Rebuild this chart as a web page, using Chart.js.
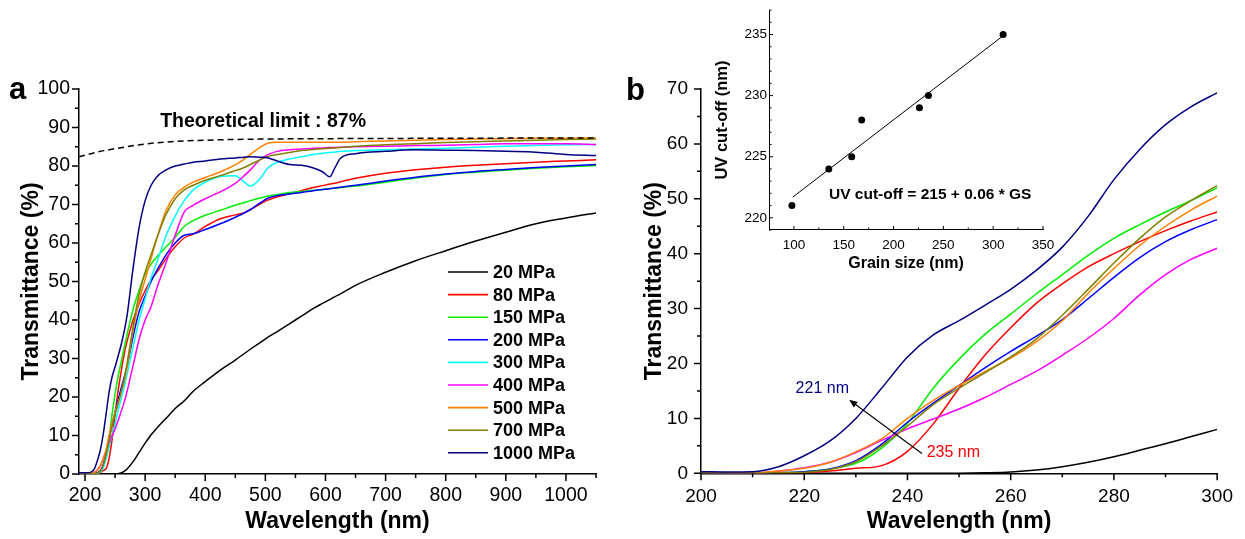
<!DOCTYPE html>
<html><head><meta charset="utf-8">
<script src="https://cdn.jsdelivr.net/npm/chart.js@4.4.1/dist/chart.umd.min.js"></script>
<style>
html,body{margin:0;padding:0;background:#fff;}
#wrap{position:relative;width:1245px;height:539px;overflow:hidden;background:#fff;}
#wrap canvas{position:absolute;left:0;top:0;}
</style></head><body>
<div id="wrap">
<canvas id="ca" width="1245" height="539"></canvas>
<canvas id="cb" width="1245" height="539"></canvas>
<canvas id="ci" width="1245" height="539"></canvas>
</div>
<script>
// ---------------- DATA ----------------
// Panel a: wavelength grid (nm)
const waveA = [190,205,215,220,225,230,235,240,245,250,255,260,265,270,280,290,300,310,320,335,350,365,380,400,425,450,465,475,490,505,520,540,560,580,595,607,615,625,650,700,750,800,850,900,950,1000,1050];
const a20   = [0,0,0,0,0,0,0,0,0,0, 0.1,0.3,0.7,1.3,3.2,5.6,8,10.2,12,14.5, 17,19,21.5,24,27,29.6,31.3,32.4,34,35.6, 37,39,41,43,44.3,45.3,46,46.8,49,52.4, 55.4,58,60.5,62.8,65,66.5,67.8];
const a80   = [0,0,0,0.1,0.4,0.9,1.4,4,9,15.5, 21.5,26.5,31,34.5,40,44.2,47.6,50.5,52.5,56, 59,61.3,62.3,64.3,66.3,67.3,67.9,68.6,70,71.2, 72,72.8,73.6,74.4,74.9,75.3,75.5,75.9,76.8,78.1, 79,79.7,80.2,80.6,81,81.3,81.6];
const a150  = [0,0,0.1,0.3,0.8,1.8,4.6,9.1,15.5,20.8, 25.3,29,32.7,36.2,42.8,47.7,52,54.5,56.5,59, 61.5,64.3,65.8,67.2,68.5,69.8,70.5,71,71.6,72.2, 72.6,73.1,73.4,73.7,73.9,74.1,74.2,74.4,74.8,75.8, 76.9,77.8,78.4,78.9,79.4,79.8,80.1];
const a200  = [0,0,0.05,0.3,0.8,2.3,5.3,9.3,12.8,16, 19.2,22.2,25,28,35.7,42.2,46.2,50,53,57, 60,62,62.4,63.5,65,66.7,67.8,68.7,70.3,71.7, 72.3,72.7,73.1,73.6,73.9,74.1,74.3,74.5,75,76.1, 77.1,77.9,78.6,79.1,79.6,80,80.4];
const a300  = [0,0,0,0.1,0.5,1.5,4,7,10,13, 16.5,19.5,22.5,26,33,40,45.5,51,55.2,62, 67,71,73.8,75.8,77.3,77.5,75.8,74.8,76.5,79.6, 81,81.8,82.4,83,83.3,83.5,83.6,83.8,84,84.2, 84.4,84.6,84.9,85.1,85.3,85.5,85.6];
const a400  = [0,0,0.4,1,2,3.8,6,8.1,9.9,11.7, 13.8,16.2,18.6,21.5,28.2,35,40,43.5,48.5,55, 62,68,69.8,71.5,73.3,75.5,77.5,79,81.5,83, 83.8,84.2,84.4,84.6,84.7,84.8,84.8,84.9,85,85.1, 85.3,85.4,85.6,85.8,85.8,85.8,85.6];
const a500  = [0,0.05,0.4,0.9,2,3.9,6.3,10,13.3,16, 18.5,21,24,27.8,37.3,45,50.5,56,61.5,68.5, 72.5,74.5,75.8,77,78.5,80.3,81.8,83,84.7,86, 86.2,86.2,86.2,86.2,86.2,86.2,86.2,86.2,86.3,86.5, 86.7,86.9,87,87.1,87.2,87.2,87.3];
const a700  = [0,0,0.1,0.2,0.7,2.1,5,8.6,12.5,15.5, 18.3,21.2,24.5,28.8,38.3,46.7,52.4,57,61.5,67.5, 71.5,73.8,75,76.3,77.5,78.8,79.6,80.4,81.5,82.5, 83,83.5,84,84.3,84.5,84.6,84.7,84.8,85.1,85.5, 85.8,86.1,86.3,86.5,86.7,86.9,87];
const a1000 = [0.3,0.3,1.2,3.2,5.9,10,15.5,21.2,25.2,27.8, 30.6,33.5,37,41.2,53.5,64,71,75,77.3,79, 80,80.5,81,81.3,81.8,82.1,82.3,82.4,82.3,82.1, 81.3,80.4,80.2,79.5,78.5,77.2,79.3,82,83.2,83.8, 84.2,84.1,84,83.8,83.6,83,82.7];
const limitWave = [190,220,250,300,350,400,450,500,600,800,1050];
const limitVal  = [82.4,83.6,84.5,85.7,86.4,86.7,86.9,87,87.1,87.2,87.3];

// Panel b: wavelength grid (nm)
const waveB = [200,205,210,215,220,225,230,235,240,245,250,255,260,265,270,275,280,285,290,295,300];
const b20   = [0,0,0,0,0,0,0,0,0,0,0.02,0.1,0.25,0.6,1.2,2,3,4.2,5.4,6.7,8];
const b80   = [0.1,0.05,0,0,0.1,0.4,0.9,1.4,4,9,15.5,21.5,26.5,31,34.5,37.6,40,42.2,44.2,46,47.6];
const b150  = [0.1,0.05,0,0.1,0.3,0.8,1.8,4.6,9.1,15.5,20.8,25.3,29,32.7,36.2,39.7,42.8,45.3,47.6,49.7,52];
const b200  = [0.1,0.05,0,0.1,0.3,0.8,2.3,5.3,9.3,12.8,16,19.2,22.2,25,28,31.8,35.7,39.3,42.2,44.4,46.2];
const b400  = [0.1,0.05,0.05,0.4,1,2,3.8,6,8.1,9.9,11.7,13.8,16.2,18.6,21.5,24.6,28.2,32.5,36.2,39,41];
const b500  = [0.1,0.1,0.1,0.4,0.9,2,3.9,6.3,10,13.3,16,18.5,21,24,27.8,32.8,37.3,41.5,45,48,50.5];
const b700  = [0.1,0.05,0,0.1,0.2,0.7,2.1,5,8.6,12.5,15.5,18.3,21.2,24.5,28.8,33.5,38.3,42.8,46.7,49.7,52.4];
const b1000 = [0.3,0.25,0.3,1.2,3.2,5.9,10,15.5,21.2,25.2,27.8,30.6,33.5,37,41.2,46.8,53.5,59,63.5,66.8,69.3];

// Inset: grain size vs UV cut-off
const grainSize = [98,135,158,168,226,235,310];
const uvCutoff  = [221,224,225,228,229,230,235];
const fitGS = [99,310];
const fitUV = [221.7,234.9];

// Labels / tick values
const seriesLabels = ['20 MPa','80 MPa','150 MPa','200 MPa','300 MPa','400 MPa','500 MPa','700 MPa','1000 MPa'];
const xTicksA = [200,300,400,500,600,700,800,900,1000];
const xMinorA = [250,350,450,550,650,750,850,950,1050];
const yTicksA = [0,10,20,30,40,50,60,70,80,90,100];
const yMinorA = [5,15,25,35,45,55,65,75,85,95];
const xTicksB = [200,220,240,260,280,300];
const xMinorB = [210,230,250,270,290];
const yTicksB = [0,10,20,30,40,50,60,70];
const yMinorB = [5,15,25,35,45,55,65];
const xTicksI = [100,150,200,250,300,350];
const xMinorI = [125,175,225,275,325];
const yTicksI = [220,225,230,235];
const yMinorI = [219,221,222,223,224,226,227,228,229,231,232,233,234,236,237];

// ---------------- HELPERS ----------------
const FF = '"Liberation Sans", Arial, Helvetica, sans-serif';
Chart.defaults.font.family = FF;
Chart.defaults.color = '#000';
const colors = ['#000000','#FF0000','#00EE00','#0000FF','#00FFFF','#FF00FF','#FF8000','#808000','#000080'];
const pts = (xs, ys) => xs.map((x, i) => ({x: x, y: ys[i]}));

function ticksPlugin(c) {
  return { id: 'axTicks', afterDatasetsDraw(chart) {
    const ctx = chart.ctx, xs = chart.scales.x, ys = chart.scales.y, ca = chart.chartArea;
    const d = c.inward ? -1 : 1;
    ctx.save(); ctx.strokeStyle = '#000'; ctx.lineWidth = c.lw; ctx.beginPath();
    c.xMajor.forEach(v => { const p = xs.getPixelForValue(v); ctx.moveTo(p, ca.bottom); ctx.lineTo(p, ca.bottom + d * c.len); });
    c.xMinor.forEach(v => { const p = xs.getPixelForValue(v); ctx.moveTo(p, ca.bottom); ctx.lineTo(p, ca.bottom + d * c.mlen); });
    c.yMajor.forEach(v => { const p = ys.getPixelForValue(v); ctx.moveTo(ca.left, p); ctx.lineTo(ca.left - d * c.len, p); });
    c.yMinor.forEach(v => { const p = ys.getPixelForValue(v); ctx.moveTo(ca.left, p); ctx.lineTo(ca.left - d * c.mlen, p); });
    ctx.stroke(); ctx.restore();
  }};
}
function textsPlugin(items) {
  return { id: 'texts', afterDraw(chart) {
    const ctx = chart.ctx;
    items.forEach(it => {
      ctx.save();
      ctx.font = it.font; ctx.fillStyle = it.color || '#000';
      ctx.textAlign = it.align || 'left'; ctx.textBaseline = it.baseline || 'alphabetic';
      let x = it.x, y = it.y;
      if (it.data) { x = chart.scales.x.getPixelForValue(it.x); y = chart.scales.y.getPixelForValue(it.y); }
      ctx.fillText(it.text, x, y);
      ctx.restore();
    });
  }};
}
function legendPlugin(c) {
  return { id: 'seriesLegend', afterDraw(chart) {
    const ctx = chart.ctx; let i = 0;
    chart.data.datasets.forEach(ds => {
      if (ds.isLimit) return;
      const y = c.y0 + c.dy * i;
      ctx.save();
      ctx.strokeStyle = ds.borderColor; ctx.lineWidth = 1.6;
      ctx.beginPath(); ctx.moveTo(c.x0, y); ctx.lineTo(c.x1, y); ctx.stroke();
      ctx.fillStyle = '#000'; ctx.font = c.font; ctx.textBaseline = 'middle'; ctx.textAlign = 'left';
      ctx.fillText(ds.label, c.xt, y + 1);
      ctx.restore(); i++;
    });
  }};
}
function arrowPlugin(c) {
  return { id: 'arrow', afterDraw(chart) {
    const ctx = chart.ctx, xs = chart.scales.x, ys = chart.scales.y;
    const x1 = xs.getPixelForValue(c.from[0]), y1 = ys.getPixelForValue(c.from[1]);
    const x2 = xs.getPixelForValue(c.to[0]), y2 = ys.getPixelForValue(c.to[1]);
    const a = Math.atan2(y2 - y1, x2 - x1), L = 9, W = 0.38;
    ctx.save(); ctx.strokeStyle = '#000'; ctx.fillStyle = '#000'; ctx.lineWidth = 1.1;
    ctx.beginPath(); ctx.moveTo(x1, y1); ctx.lineTo(x2 - 5 * Math.cos(a), y2 - 5 * Math.sin(a)); ctx.stroke();
    ctx.beginPath(); ctx.moveTo(x2, y2);
    ctx.lineTo(x2 - L * Math.cos(a - W), y2 - L * Math.sin(a - W));
    ctx.lineTo(x2 - L * Math.cos(a + W), y2 - L * Math.sin(a + W));
    ctx.closePath(); ctx.fill(); ctx.restore();
  }};
}
function axis(min, max, tickVals, size, pad, extra) {
  return Object.assign({
    type: 'linear', min: min, max: max,
    afterBuildTicks: s => { s.ticks = tickVals.map(v => ({value: v})); },
    ticks: { font: {size: size}, color: '#000', padding: pad, autoSkip: false, maxRotation: 0, callback: v => String(v) },
    grid: { display: false, drawTicks: false, tickLength: 0 },
    border: { display: true, color: '#000', width: 1.5 }
  }, extra);
}
const baseOpts = { responsive: false, animation: false, devicePixelRatio: 1, events: [] };

// ---------------- PANEL A ----------------
const seriesA = [a20, a80, a150, a200, a300, a400, a500, a700, a1000];
const dsA = seriesA.map((vals, i) => ({
  label: seriesLabels[i], data: pts(waveA, vals), borderColor: colors[i], borderWidth: 1.5,
  pointRadius: 0, cubicInterpolationMode: 'monotone', fill: false, order: 20 - i
}));
dsA.push({ label: 'limit', isLimit: true, data: pts(limitWave, limitVal), borderColor: '#000', borderWidth: 1.5,
  borderDash: [6, 4], pointRadius: 0, cubicInterpolationMode: 'monotone', fill: false, order: 0 });

new Chart(document.getElementById('ca'), {
  type: 'line',
  data: { datasets: dsA },
  options: Object.assign({}, baseOpts, {
    layout: { padding: { left: 0, right: 649, top: 89, bottom: 0 } },
    plugins: { legend: { display: false }, tooltip: { enabled: false } },
    scales: {
      x: axis(190, 1050, xTicksA, 19.5, 10, { afterFit: s => { s.height = 65; },
        title: { display: true, text: 'Wavelength (nm)', font: { size: 23, weight: 'bold' }, padding: { top: 0, bottom: 4 } } }),
      y: axis(0, 100, yTicksA, 19.5, 9, { afterFit: s => { s.width = 79; },
        title: { display: true, text: 'Transmittance (%)', font: { size: 23, weight: 'bold' }, padding: { top: 18, bottom: 0 } } })
    }
  }),
  plugins: [
    ticksPlugin({ xMajor: xTicksA, xMinor: xMinorA, yMajor: yTicksA, yMinor: yMinorA, len: 7, mlen: 4, lw: 1.5, inward: false }),
    legendPlugin({ x0: 448, x1: 488, xt: 493, y0: 272, dy: 22.6, font: 'bold 18px ' + FF }),
    textsPlugin([
      { text: 'a', x: 9, y: 99, font: 'bold 31px ' + FF },
      { text: 'Theoretical limit : 87%', data: true, x: 325, y: 90.1, font: 'bold 19.5px ' + FF }
    ])
  ]
});

// ---------------- PANEL B ----------------
const seriesB = [b20, b80, b150, b200, null, b400, b500, b700, b1000];
const dsB = [];
seriesB.forEach((vals, i) => {
  if (!vals) return;
  dsB.push({ label: seriesLabels[i], data: pts(waveB, vals), borderColor: colors[i], borderWidth: 1.5,
    pointRadius: 0, cubicInterpolationMode: 'monotone', fill: false, order: 20 - i });
});
new Chart(document.getElementById('cb'), {
  type: 'line',
  data: { datasets: dsB },
  options: Object.assign({}, baseOpts, {
    layout: { padding: { left: 621, right: 25, top: 89, bottom: 0 } },
    plugins: { legend: { display: false }, tooltip: { enabled: false } },
    scales: {
      x: axis(200, 300, xTicksB, 19, 12, { afterFit: s => { s.height = 65.7; },
        title: { display: true, text: 'Wavelength (nm)', font: { size: 23, weight: 'bold' }, padding: { top: 0, bottom: 4 } } }),
      y: axis(0, 70, yTicksB, 19, 13, { afterFit: s => { s.width = 80; },
        title: { display: true, text: 'Transmittance (%)', font: { size: 23, weight: 'bold' }, padding: { top: 20, bottom: 0 } } })
    }
  }),
  plugins: [
    ticksPlugin({ xMajor: xTicksB, xMinor: xMinorB, yMajor: yTicksB, yMinor: yMinorB, len: 7, mlen: 4, lw: 1.5, inward: false }),
    arrowPlugin({ from: [242.8, 3.6], to: [228.7, 13.4] }),
    textsPlugin([
      { text: 'b', x: 626, y: 100, font: 'bold 31px ' + FF },
      { text: '221 nm', data: true, x: 223.5, y: 15.5, align: 'center', baseline: 'middle', color: '#000080', font: '16px ' + FF },
      { text: '235 nm', data: true, x: 248.9, y: 3.7, align: 'center', baseline: 'middle', color: '#FF0000', font: '16px ' + FF }
    ])
  ]
});

// ---------------- INSET ----------------
new Chart(document.getElementById('ci'), {
  type: 'scatter',
  data: { datasets: [
    { label: 'UV cut-off', data: pts(grainSize, uvCutoff), backgroundColor: '#000', borderColor: '#000', pointRadius: 3.5, pointBorderWidth: 0, showLine: false, order: 0 },
    { label: 'fit', data: pts(fitGS, fitUV), borderColor: '#000', borderWidth: 1, pointRadius: 0, showLine: true, order: 1 }
  ]},
  options: Object.assign({}, baseOpts, {
    layout: { padding: { left: 705, right: 202, top: 10, bottom: 259 } },
    plugins: { legend: { display: false }, tooltip: { enabled: false } },
    scales: {
      x: axis(75, 350, xTicksI, 13.5, 7, { afterFit: s => { s.height = 50; }, border: { display: true, color: '#000', width: 1 },
        title: { display: true, text: 'Grain size (nm)', font: { size: 16, weight: 'bold' }, padding: { top: 0, bottom: 6.5 } } }),
      y: axis(219, 237, yTicksI, 13.5, 2, { afterFit: s => { s.width = 64; }, border: { display: true, color: '#000', width: 1 },
        title: { display: true, text: 'UV cut-off (nm)', font: { size: 16.5, weight: 'bold' }, padding: { top: 8, bottom: 0 } } })
    }
  }),
  plugins: [
    ticksPlugin({ xMajor: xTicksI, xMinor: xMinorI, yMajor: yTicksI, yMinor: yMinorI, len: 4, mlen: 2.5, lw: 1, inward: true }),
    textsPlugin([
      { text: 'UV cut-off = 215 + 0.06 * GS', data: true, x: 135.2, y: 221.54, font: 'bold 15.5px ' + FF }
    ])
  ]
});
</script>
</body></html>
